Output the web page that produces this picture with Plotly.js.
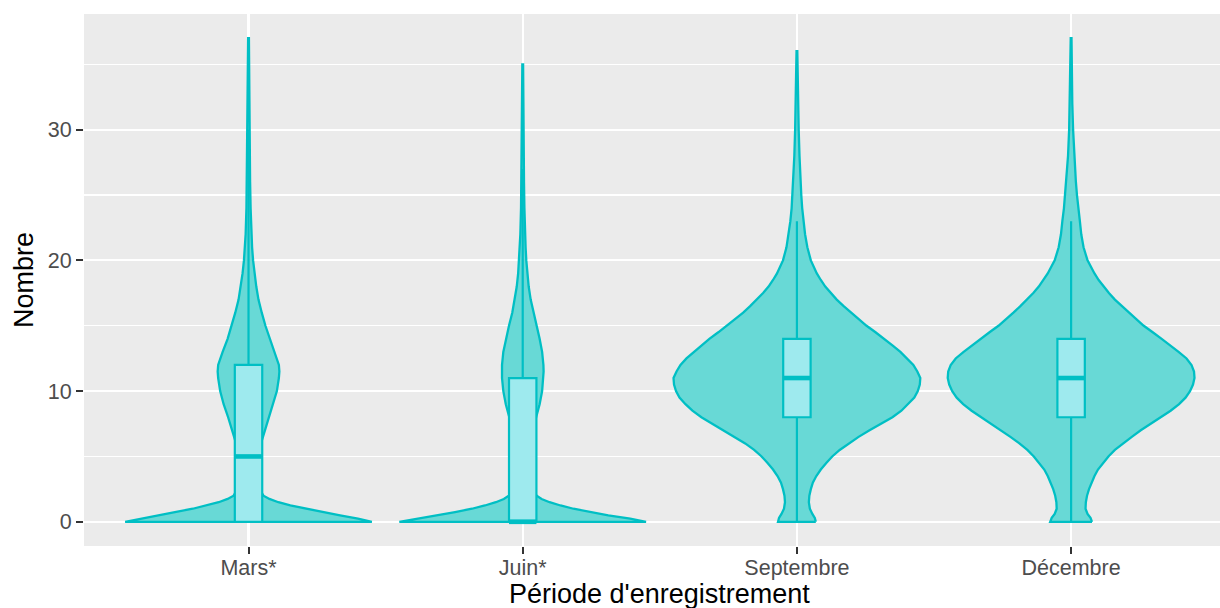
<!DOCTYPE html>
<html>
<head>
<meta charset="utf-8">
<script src="https://cdn.plot.ly/plotly-3.0.1.min.js"></script>
<style>
html, body { margin: 0; padding: 0; background: #ffffff; }
#chart { width: 1220px; height: 608px; }
</style>
</head>
<body>
<div id="chart"></div>
<script>
// ---- data ----
const categories = ["Mars*", "Juin*", "Septembre", "Décembre"];
const yTickValues = [0, 10, 20, 30];

// Violin profiles: value levels and relative density (un-normalised) at each level
const marsLevels  = [0, 0.25, 0.5, 0.75, 1, 1.25, 1.5, 1.75, 2, 2.5, 3, 4, 5, 6, 7, 8, 9, 10, 11, 11.5, 12, 13, 14, 15, 16, 17, 18, 19, 20, 21, 22, 24, 26, 28, 30, 33, 37];
const marsDensity = [124, 110, 92, 74, 56, 42, 30, 21, 15, 11, 9, 8.5, 9.5, 12.5, 16.5, 20.5, 25, 28.5, 30.5, 31, 30.5, 26, 21, 17, 13.3, 10, 7.8, 6, 4.6, 3.6, 2.9, 2.1, 1.6, 1.3, 1.0, 0.7, 0.4];

const juinLevels  = [0, 0.25, 0.5, 0.75, 1, 1.25, 1.5, 1.75, 2, 2.5, 3, 4, 5, 6, 7, 8, 9, 10, 11, 11.5, 12, 13, 14, 15, 16, 17, 18, 19, 20, 21, 22, 24, 26, 28, 30, 32, 35];
const juinDensity = [124, 108, 86, 68, 51, 38, 27, 19, 14, 10.5, 8.5, 7.5, 7.5, 8.5, 10.5, 13.5, 17, 19.5, 20.8, 21, 20.8, 19.5, 17, 13.8, 10.5, 8, 6, 4.6, 3.6, 2.9, 2.4, 1.7, 1.3, 1.0, 0.8, 0.6, 0.4];

const septLevels  = [0, 0.3, 0.6, 1, 1.5, 2, 2.5, 3, 3.5, 4, 4.5, 5, 5.5, 6, 6.5, 7, 7.5, 8, 8.5, 9, 9.5, 10, 10.5, 11, 11.5, 12, 12.5, 13, 13.5, 14, 14.5, 15, 15.5, 16, 16.5, 17, 17.5, 18, 18.5, 19, 20, 21, 22, 23, 24, 25, 26, 28, 30, 32, 34, 36];
const septDensity = [19, 18, 15.5, 13, 12, 12.5, 14, 16, 19.5, 24, 29.5, 35.5, 43, 52, 62, 73, 85, 96, 105, 112, 118, 121.5, 123.5, 124, 121, 117, 111, 104, 96, 88, 79, 70, 62, 54, 47, 40, 34, 28.5, 24, 20, 14, 10.5, 8.2, 6.6, 5.3, 4.4, 3.6, 2.6, 1.8, 1.2, 0.7, 0.4];

const decLevels   = [0, 0.3, 0.6, 1, 1.5, 2, 2.5, 3, 3.5, 4, 4.5, 5, 5.5, 6, 6.5, 7, 7.5, 8, 8.5, 9, 9.5, 10, 10.5, 11, 11.5, 12, 12.5, 13, 13.5, 14, 14.5, 15, 15.5, 16, 16.5, 17, 17.5, 18, 18.5, 19, 20, 21, 22, 23, 24, 25, 26, 28, 30, 32, 34, 37];
const decDensity  = [21, 19.5, 16.5, 14.5, 14.8, 16, 18, 20.5, 23.5, 27, 32, 37.5, 44, 52, 61, 70, 80, 90, 100, 108.5, 115, 119.5, 122.5, 124, 123.5, 121, 116, 108, 100, 91, 82, 73, 65.5, 58, 51, 44, 38, 32.5, 27.7, 23.5, 16.5, 12.5, 10.2, 8.8, 7.2, 5.9, 4.8, 3.1, 2.0, 1.2, 0.8, 0.4];

// Box statistics
const boxQ1     = [0, 0, 8, 8];
const boxMedian = [5, 0, 11, 11];
const boxQ3     = [12, 11, 14, 14];
const boxLower  = [0, 0, 0, 0];
const boxUpper  = [30, 27, 23, 23];

// ---- drawing ----
const TEAL = '#00BFC4';
const VIOLIN_FILL = '#68D9D6';
const BOX_FILL = '#9EEAEE';
const HALF_WIDTH = 0.45;   // violin width 0.9
const BOX_WIDTH = 0.1;
const X_RANGE = [0.4, 4.543];
const Y_RANGE = [-1.85, 38.85];

const profiles = [
  [marsLevels, marsDensity],
  [juinLevels, juinDensity],
  [septLevels, septDensity],
  [decLevels, decDensity]
];
const positions = categories.map((c, i) => i + 1);

const traces = [];
profiles.forEach(([lev, dens], i) => {
  const pos = positions[i];
  const maxD = Math.max(...dens);
  const xs = [], ys = [];
  for (let k = 0; k < lev.length; k++) {
    xs.push(pos + HALF_WIDTH * dens[k] / maxD);
    ys.push(lev[k]);
  }
  for (let k = lev.length - 1; k >= 0; k--) {
    xs.push(pos - HALF_WIDTH * dens[k] / maxD);
    ys.push(lev[k]);
  }
  xs.push(xs[0]); ys.push(ys[0]);
  traces.push({
    type: 'scatter', mode: 'lines', x: xs, y: ys,
    fill: 'toself', fillcolor: VIOLIN_FILL,
    line: { color: TEAL, width: 2.3 },
    hoverinfo: 'skip', showlegend: false, name: categories[i]
  });
});

// boxes on an overlaying subplot so they are drawn above the violins
traces.push({
  type: 'box', x: positions, xaxis: 'x2', yaxis: 'y2',
  q1: boxQ1, median: boxMedian, q3: boxQ3,
  lowerfence: boxLower, upperfence: boxUpper,
  width: BOX_WIDTH, whiskerwidth: 0, boxpoints: false,
  fillcolor: BOX_FILL, line: { color: TEAL, width: 2.2 },
  hoverinfo: 'skip', showlegend: false
});

// thicker median segments
const mx = [], my = [];
positions.forEach((p, i) => {
  mx.push(p - BOX_WIDTH / 2, p + BOX_WIDTH / 2, null);
  my.push(boxMedian[i], boxMedian[i], null);
});
traces.push({
  type: 'scatter', mode: 'lines', x: mx, y: my, xaxis: 'x2', yaxis: 'y2',
  line: { color: TEAL, width: 4.6 }, hoverinfo: 'skip', showlegend: false
});

const tickFont = { size: 21.5, color: '#4D4D4D' };

const layout = {
  width: 1220, height: 608,
  margin: { l: 84, r: 0, t: 14, b: 62, pad: 0 },
  paper_bgcolor: '#FFFFFF', plot_bgcolor: '#EBEBEB',
  showlegend: false, hovermode: false,
  font: { family: 'Liberation Sans, Arial, Helvetica, sans-serif', color: '#000000' },
  xaxis: {
    range: X_RANGE, tickvals: positions, ticktext: categories,
    showgrid: true, gridcolor: '#FFFFFF', gridwidth: 2.1,
    zeroline: false, showline: false,
    ticks: 'outside', ticklen: 7, tickwidth: 2, tickcolor: '#333333',
    ticklabelstandoff: -5,
    tickfont: tickFont
  },
  yaxis: {
    range: Y_RANGE, tickvals: yTickValues,
    showgrid: true, gridcolor: '#FFFFFF', gridwidth: 2.1,
    minor: { tickvals: [5, 15, 25, 35], showgrid: true, gridcolor: '#FFFFFF', gridwidth: 1.1, ticks: '' },
    zeroline: false, showline: false,
    ticks: 'outside', ticklen: 7, tickwidth: 2, tickcolor: '#333333',
    tickfont: tickFont,
    title: { text: 'Nombre', font: { size: 27, color: '#000000' }, standoff: 6 }
  },
  xaxis2: { overlaying: 'x', anchor: 'y2', range: X_RANGE, visible: false, showgrid: false, zeroline: false },
  yaxis2: { overlaying: 'y', anchor: 'x2', range: Y_RANGE, visible: false, showgrid: false, zeroline: false },
  annotations: [{
    text: "Période d'enregistrement", xref: 'x', x: 2.5, yref: 'paper', y: -0.091,
    xanchor: 'center', yanchor: 'middle', showarrow: false,
    font: { size: 27, color: '#000000' }
  }]
};

Plotly.newPlot('chart', traces, layout, { displayModeBar: false, staticPlot: true });
</script>
</body>
</html>
